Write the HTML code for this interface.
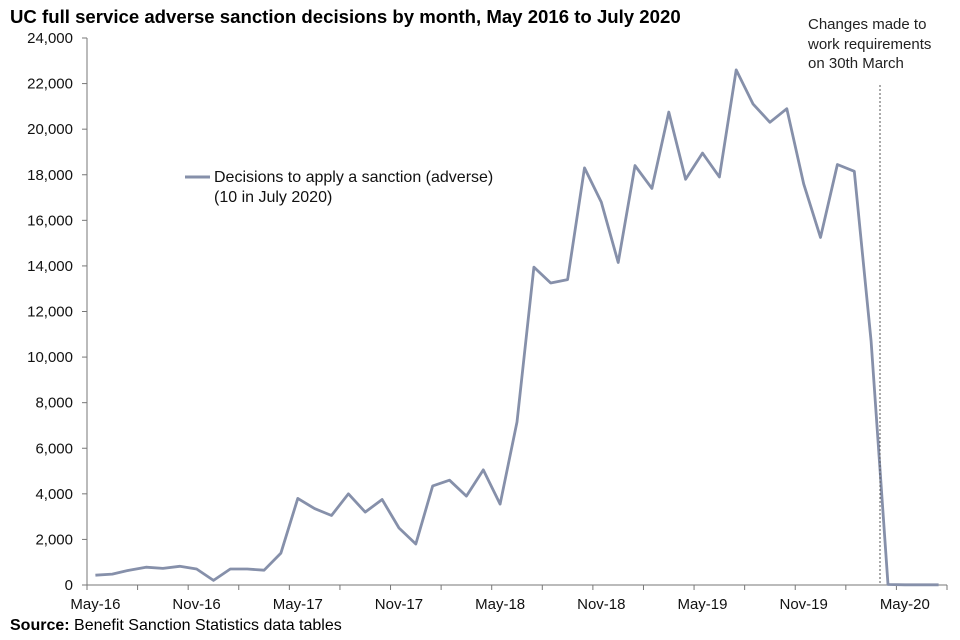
<!DOCTYPE html>
<html><head><meta charset="utf-8"><style>
body{margin:0;background:#fff;font-family:"Liberation Sans",Arial,sans-serif}
svg{display:block}
</style></head><body>
<svg id="chart" width="960" height="640">
<text x="10" y="23" font-size="18.6" font-weight="bold" fill="#000">UC full service adverse sanction decisions by month, May 2016 to July 2020</text>
<text x="10" y="630" font-size="16" fill="#000"><tspan font-weight="bold">Source:</tspan> Benefit Sanction Statistics data tables</text>
<g id="axes"></g>
<g id="marks"></g>
<line x1="880" y1="85" x2="880" y2="585" stroke="#555" stroke-width="1" stroke-dasharray="2,2"/>
<text font-size="15" fill="#222"><tspan x="808" y="29">Changes made to</tspan><tspan x="808" y="49">work requirements</tspan><tspan x="808" y="68">on 30th March</tspan></text>
<line x1="185" y1="177" x2="210" y2="177" stroke="#8690aa" stroke-width="3"/>
<text font-size="16" fill="#111"><tspan x="214" y="182">Decisions to apply a sanction (adverse)</tspan><tspan x="214" y="202">(10 in July 2020)</tspan></text>
</svg>
<script>
const categories = ["May-16","Jun-16","Jul-16","Aug-16","Sep-16","Oct-16","Nov-16","Dec-16","Jan-17","Feb-17","Mar-17","Apr-17","May-17","Jun-17","Jul-17","Aug-17","Sep-17","Oct-17","Nov-17","Dec-17","Jan-18","Feb-18","Mar-18","Apr-18","May-18","Jun-18","Jul-18","Aug-18","Sep-18","Oct-18","Nov-18","Dec-18","Jan-19","Feb-19","Mar-19","Apr-19","May-19","Jun-19","Jul-19","Aug-19","Sep-19","Oct-19","Nov-19","Dec-19","Jan-20","Feb-20","Mar-20","Apr-20","May-20","Jun-20","Jul-20"];
const sanctions = [430,480,650,780,730,820,700,200,700,700,650,1400,3800,3350,3050,4000,3200,3750,2500,1800,4350,4600,3900,5050,3550,7150,13950,13250,13400,18300,16800,14150,18400,17400,20750,17800,18950,17900,22600,21100,20300,20900,17600,15250,18450,18150,10700,20,10,10,10];
const yTicks = [0,2000,4000,6000,8000,10000,12000,14000,16000,18000,20000,22000,24000];
const NS="http://www.w3.org/2000/svg";
const X0=87,X1=947,Y0=585,Y1=38,YMAX=24000;
const bw=(X1-X0)/categories.length;
const xs=i=>X0+(i+0.5)*bw;
const ys=v=>Y0-(v/YMAX)*(Y0-Y1);
const axes=document.getElementById('axes'),marks=document.getElementById('marks');
function mk(t,a,p){const e=document.createElementNS(NS,t);for(const k in a)e.setAttribute(k,a[k]);p.appendChild(e);return e;}
const ya=mk('line',{x1:X0,y1:Y1,x2:X0,y2:Y0,stroke:'#777','stroke-width':1},axes);


const xa=mk('line',{x1:X0,y1:Y0,x2:X1,y2:Y0,stroke:'#777','stroke-width':1},axes);


yTicks.forEach(v=>{
  const y=ys(v);
  mk('line',{x1:X0-5,y1:y,x2:X0,y2:y,stroke:'#777'},axes);
  const t=mk('text',{x:73,y:y+5,'text-anchor':'end','font-size':15,fill:'#111'},axes);
  t.textContent=v.toLocaleString('en-US');
  
  
});
for(let i=0;i<=categories.length;i+=3){
  const x=X0+i*bw;
  mk('line',{x1:x,y1:Y0,x2:x,y2:Y0+5,stroke:'#777'},axes);
}
mk('line',{x1:X1,y1:Y0,x2:X1,y2:Y0+5,stroke:'#777'},axes);
categories.forEach((c,i)=>{
  if(i%6!==0)return;
  const t=mk('text',{x:xs(i),y:609,'text-anchor':'middle','font-size':15,fill:'#111'},axes);
  t.textContent=c;
  
  
});
const pts=sanctions.map((v,i)=>xs(i).toFixed(1)+','+ys(v).toFixed(1)).join(' ');
const line=mk('polyline',{points:pts,fill:'none',stroke:'#8690aa','stroke-width':2.8,'stroke-linejoin':'round'},marks);


</script>
</body></html>
